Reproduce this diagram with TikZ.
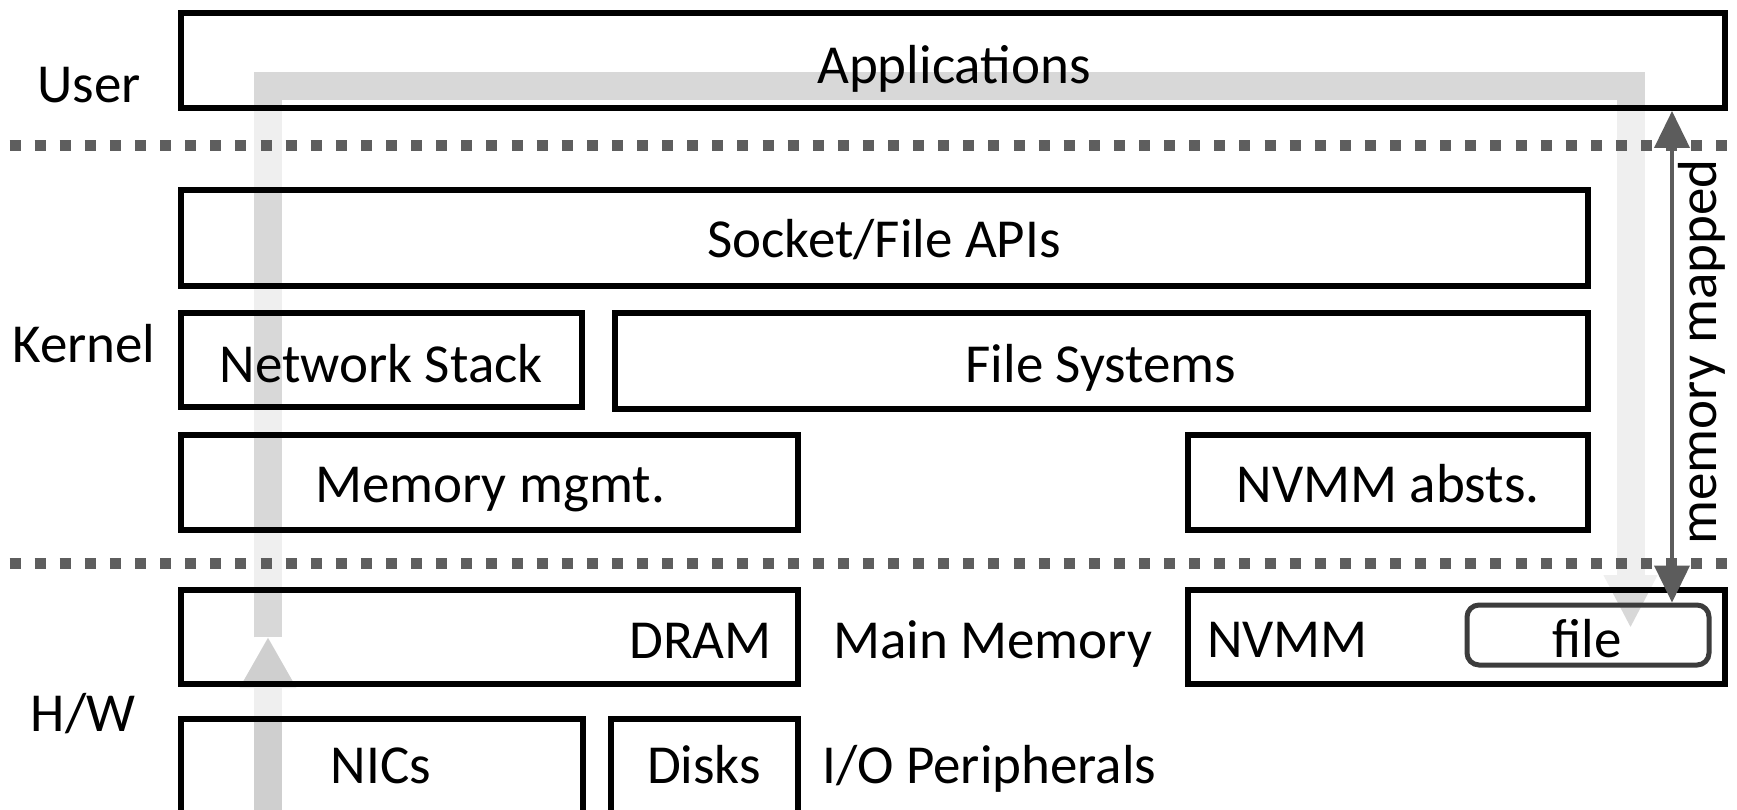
\documentclass[tikz,border=0pt]{standalone}
\usepackage{fontspec}
\setmainfont{Carlito}
\usetikzlibrary{arrows.meta}
\definecolor{bandlight}{HTML}{EFEFEF}
\definecolor{banddark}{HTML}{D8D8D8}
\definecolor{banddarker}{HTML}{CFCFCF}
\definecolor{dotgray}{HTML}{5E5E5E}
\definecolor{arrowgray}{HTML}{5C5C5C}
\definecolor{filegray}{HTML}{3C3C3C}
\begin{document}
\begin{tikzpicture}[x=1pt,y=-1pt,
  box/.style={draw=black, line width=6pt, rectangle, inner sep=0pt, outer sep=0pt, anchor=north west},
  lbl/.style={font=\fontsize{55}{65}\selectfont, inner sep=0pt, anchor=base},
  band/.style={line width=28pt, line join=miter, line cap=butt},
  sepline/.style={draw=dotgray, line width=11pt, dash pattern=on 11pt off 14.1pt},
  mmarrow/.style={draw=arrowgray, line width=4pt, {Triangle[length=37pt,width=35pt]}-{Triangle[length=37pt,width=35pt]}},
  uptip/.style={-{Triangle[length=51pt,width=53pt]}},
  downtip/.style={-{Triangle[length=53pt,width=50pt]}}
]
\fill[white] (0,0) rectangle (1737,810);
\useasboundingbox (0,0) rectangle (1737,810);

% boxes (geometry only)
\path node[box, minimum width=1544pt, minimum height=95pt] (apps) at (181,13) {}
      node[box, minimum width=1407pt, minimum height=96pt] (sock) at (181,190) {}
      node[box, minimum width=401pt, minimum height=94pt] (net) at (181,313) {}
      node[box, minimum width=973pt, minimum height=96pt] (fs) at (615,313) {}
      node[box, minimum width=617pt, minimum height=95pt] (mm) at (181,435) {}
      node[box, minimum width=400pt, minimum height=95pt] (nvabs) at (1188,435) {}
      node[box, minimum width=617pt, minimum height=94pt] (dram) at (181,590) {}
      node[box, minimum width=537pt, minimum height=94pt] (nvmm) at (1188,590) {}
      node[box, minimum width=402pt, minimum height=120pt] (nics) at (181,719) {}
      node[box, minimum width=187pt, minimum height=120pt] (disks) at (611,719) {};

% gray data path
\coordinate (b0) at (268,830);
\coordinate (b1) at (268,637);
\coordinate (b2) at (268,86);
\coordinate (b3) at (1630.5,86);
\coordinate (b4) at (1630.5,628);
\draw[band, bandlight, uptip] (b0) -- (b1);
\draw[band, bandlight, downtip] (b1) -- (b2) -- (b3) -- (b4);
\begin{scope}
  \clip (apps.north west) rectangle (apps.south east)
        (sock.north west) rectangle (sock.south east)
        (net.north west) rectangle (net.south east)
        (fs.north west) rectangle (fs.south east)
        (mm.north west) rectangle (mm.south east)
        (nvabs.north west) rectangle (nvabs.south east)
        (dram.north west) rectangle (dram.south east)
        (nvmm.north west) rectangle (nvmm.south east)
        (nics.north west) rectangle (nics.south east)
        (disks.north west) rectangle (disks.south east);
  \draw[band, banddarker, uptip] (b0) -- (b1);
  \draw[band, banddark, downtip] (b1) -- (b2) -- (b3) -- (b4);
\end{scope}

% box borders on top of the path
\foreach \b in {apps,sock,net,fs,mm,nvabs,dram,nvmm,nics,disks}
  \draw[line width=6pt, line join=miter] (\b.north west) rectangle (\b.south east);

\node[draw=filegray, line width=5pt, rounded corners=12pt, rectangle, inner sep=0pt, outer sep=0pt,
      anchor=north west, minimum width=242pt, minimum height=60pt] (file) at (1467,605) {};

% separators
\coordinate (s1l) at (9.5,146);
\coordinate (s1r) at (1737,146);
\coordinate (s2l) at (9.5,563);
\coordinate (s2r) at (1737,563);
\draw[sepline] (s1l) -- (s1r);
\draw[sepline] (s2l) -- (s2r);

% memory mapped arrow
\coordinate (mmx) at (1672,0);
\draw[mmarrow] ([yshift=-3pt]apps.south -| mmx) -- ([yshift=2.5pt]file.north -| mmx);
\node[lbl, rotate=90] (mmlbl) at (1716,352) {memory mapped};

% texts
\node[lbl] (tApps) at (954,84) {Applications};
\node[lbl] (tUser) at (89,103) {User};
\node[lbl] (tSock) at (884,258) {Socket/File APIs};
\node[lbl] (tNet) at (381,382) {Network Stack};
\node[lbl] (tKern) at (84,362) {Kernel};
\node[lbl] (tFS) at (1101,382) {File Systems};
\node[lbl] (tMM) at (490,502) {Memory mgmt.};
\node[lbl] (tNVA) at (1388,502) {NVMM absts.};
\node[lbl, anchor=base east] (tDRAM) at (772,658) {DRAM};
\node[lbl, anchor=base west] (tMain) at (833,658) {Main Memory};
\node[lbl, anchor=base west] (tNVMM) at (1207,657) {NVMM};
\node[lbl] (tFile) at (1587,657) {file};
\node[lbl] (tHW) at (83,731) {H/W};
\node[lbl] (tNICs) at (381,783) {NICs};
\node[lbl] (tDisks) at (704,783) {Disks};
\node[lbl, anchor=base west] (tIO) at (822,783) {I/O Peripherals};
\end{tikzpicture}
\end{document}
